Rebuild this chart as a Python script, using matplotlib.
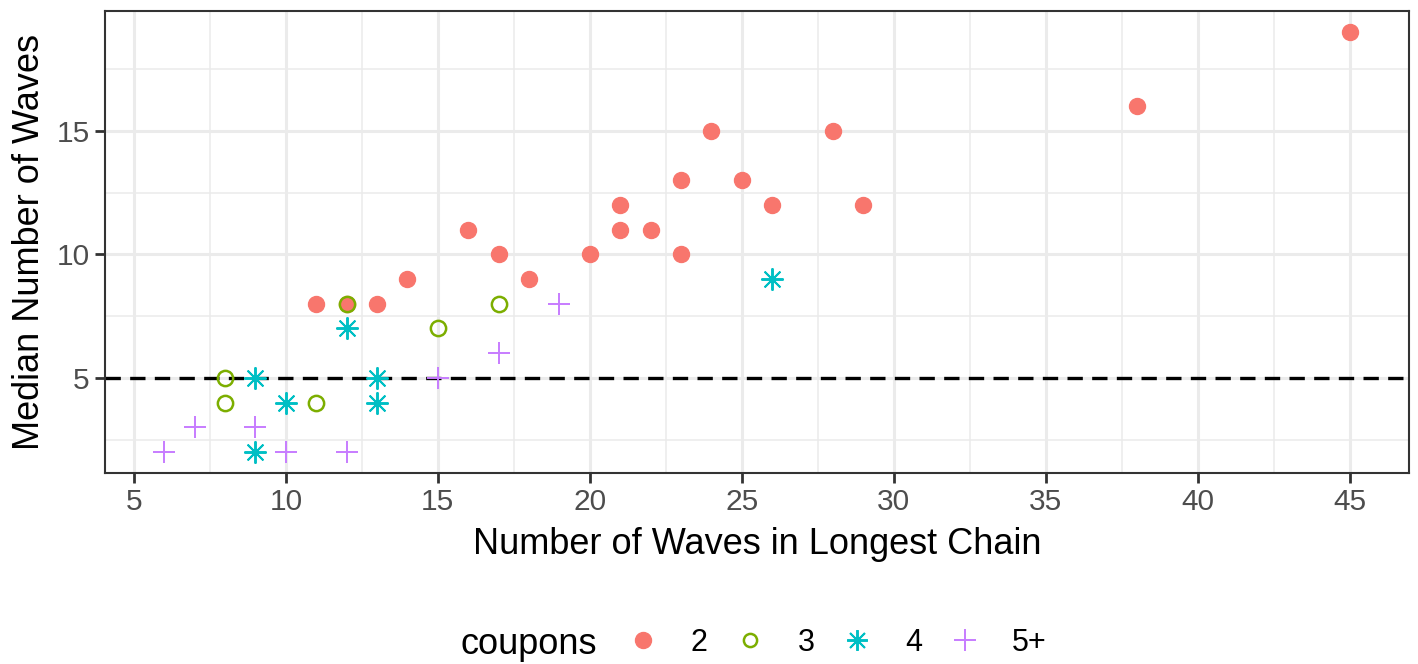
import matplotlib
matplotlib.use("Agg")
import matplotlib.pyplot as plt
from matplotlib.lines import Line2D
import numpy as np

plt.rcParams['font.family'] = ['Liberation Sans', 'DejaVu Sans']

# Longest chain length (x) and median number of waves (y) per coupon group
chain_2 = [11, 12, 13, 14, 16, 17, 18, 20, 21, 21, 22, 23, 23, 24, 25, 26, 28, 29, 38, 45]
median_2 = [8, 8, 8, 9, 11, 10, 9, 10, 12, 11, 11, 13, 10, 15, 13, 12, 15, 12, 16, 19]

chain_3 = [8, 8, 11, 12, 15, 17]
median_3 = [5, 4, 4, 8, 7, 8]

chain_4 = [9, 9, 10, 12, 13, 13, 26]
median_4 = [5, 2, 4, 7, 5, 4, 9]

chain_5 = [6, 7, 9, 10, 12, 15, 17, 19]
median_5 = [2, 3, 3, 2, 2, 5, 6, 8]

group_labels = ["2", "3", "4", "5+"]
group_colors = ["#F8766D", "#7CAE00", "#00BFC4", "#C77CFF"]

x_ticks = [5, 10, 15, 20, 25, 30, 35, 40, 45]
y_ticks = [5, 10, 15]
threshold = 5

fig = plt.figure(figsize=(14.18, 6.64), dpi=100)
ax = fig.add_axes([105 / 1418, 1 - 473 / 664, (1409 - 105) / 1418, (473 - 11) / 664])

all_x = chain_2 + chain_3 + chain_4 + chain_5
all_y = median_2 + median_3 + median_4 + median_5
xr = max(all_x) - min(all_x)
yr = max(all_y) - min(all_y)
ax.set_xlim(min(all_x) - 0.05 * xr, max(all_x) + 0.05 * xr)
ax.set_ylim(min(all_y) - 0.05 * yr, max(all_y) + 0.05 * yr)

# grid: major and minor, theme_bw style
ax.set_xticks(x_ticks)
ax.set_yticks(y_ticks)
ax.set_xticks([7.5, 12.5, 17.5, 22.5, 27.5, 32.5, 37.5, 42.5], minor=True)
ax.set_yticks([2.5, 7.5, 12.5, 17.5], minor=True)
ax.grid(which='major', color='#EBEBEB', linewidth=2.2, zorder=0)
ax.grid(which='minor', color='#EBEBEB', linewidth=1.1, zorder=0)
ax.set_axisbelow(True)
ax.tick_params(which='minor', length=0)
ax.tick_params(which='major', length=7, width=2, color='#333333',
               labelsize=21.5, labelcolor='#4D4D4D', pad=4)
for sp in ax.spines.values():
    sp.set_color('#333333')
    sp.set_linewidth(1.5)

ax.axhline(threshold, color='black', linestyle=(0, (4.6, 2.8)), linewidth=2.4, zorder=1)

ms = 11.5
ax.plot(chain_2, median_2, linestyle='none', marker='o', markersize=ms,
        markerfacecolor=group_colors[0], markeredgecolor=group_colors[0], zorder=3)
ax.plot(chain_3, median_3, linestyle='none', marker='o', markersize=ms - 0.5,
        markerfacecolor='none', markeredgecolor=group_colors[1], markeredgewidth=1.8, zorder=3)
ax.plot(chain_4, median_4, linestyle='none', marker=(8, 2, 0), markersize=16,
        color=group_colors[2], markeredgewidth=1.4, zorder=3)
ax.plot(chain_5, median_5, linestyle='none', marker='+', markersize=16,
        color=group_colors[3], markeredgewidth=1.4, zorder=3)

ax.set_xlabel("Number of Waves in Longest Chain", fontsize=26, color='black', labelpad=8)
ax.set_ylabel("Median Number of Waves", fontsize=26, color='black', labelpad=7)

handles = [
    Line2D([], [], linestyle='none', marker='o', markersize=ms,
           markerfacecolor=group_colors[0], markeredgecolor=group_colors[0]),
    Line2D([], [], linestyle='none', marker='o', markersize=ms - 2,
           markerfacecolor='none', markeredgecolor=group_colors[1], markeredgewidth=1.8),
    Line2D([], [], linestyle='none', marker=(8, 2, 0), markersize=15,
           color=group_colors[2], markeredgewidth=1.4),
    Line2D([], [], linestyle='none', marker='+', markersize=16,
           color=group_colors[3], markeredgewidth=1.4),
]
fig.text(460 / 1418, 1 - 645 / 664, "coupons", fontsize=26, va='center', ha='left')
fig.legend(handles, group_labels, loc='center left', bbox_to_anchor=(625 / 1418, 1 - 643 / 664),
           ncol=4, frameon=False, fontsize=22, handlelength=1.2, handletextpad=0.95,
           columnspacing=0.8, borderaxespad=0, borderpad=0)

fig.savefig("out.png", dpi=100)
